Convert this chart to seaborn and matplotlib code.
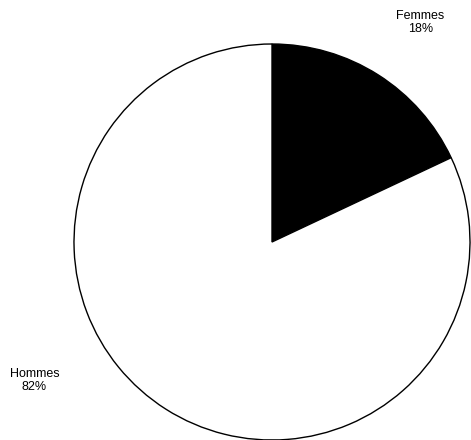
import matplotlib.pyplot as plt
import seaborn as sns

sns.set_style("white")
plt.rcParams['font.family'] = ['Liberation Sans', 'DejaVu Sans']

# Data
labels = ['Femmes', 'Hommes']
shares = [18, 82]
colors = ['black', 'white']

fig = plt.figure(figsize=(4.71, 4.40), dpi=100)
# circle spans x 74..470, y 44..440 px
ax = fig.add_axes([74 / 471, 0, 396 / 471, 396 / 440])

ax.pie(shares, colors=colors, startangle=90, counterclock=False,
       radius=1, wedgeprops={'edgecolor': 'black', 'linewidth': 1.0})
ax.set_xlim(-1, 1)
ax.set_ylim(-1, 1)
ax.set_aspect('equal')
ax.axis('off')

# label positions (data coords relative to pie centre)
label_pos = [(0.75, 1.11), (-1.20, -0.70)]
for lab, val, (x, y) in zip(labels, shares, label_pos):
    ax.text(x, y, f'{lab}\n{val}%', ha='center', va='center', color='black',
            fontsize=9, clip_on=False, linespacing=1.1)

fig.savefig('out.png', dpi=100)
